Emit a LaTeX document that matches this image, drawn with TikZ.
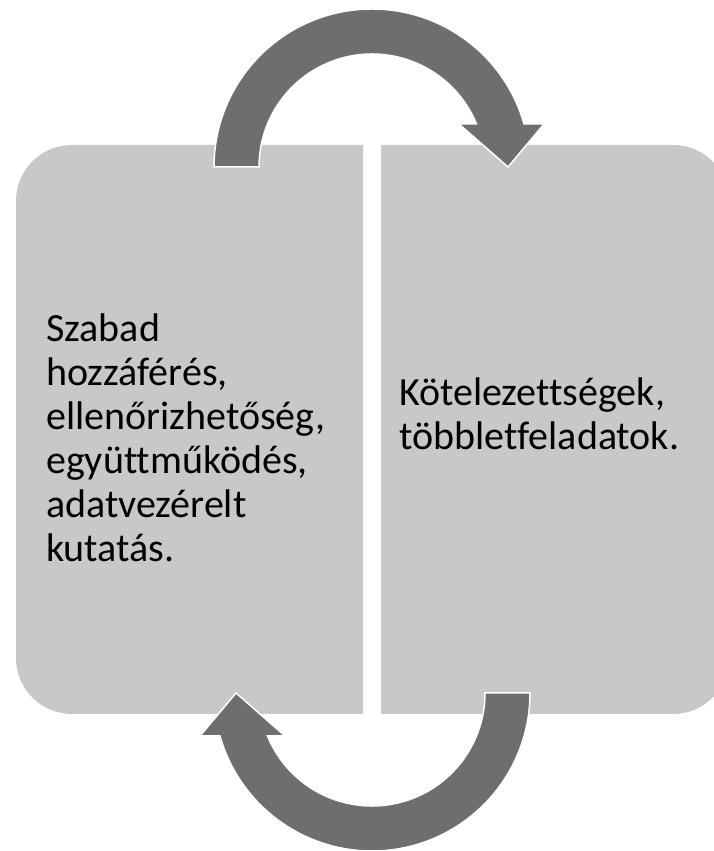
\documentclass[tikz,border=0pt]{standalone}
\usepackage{fontspec}
\setmainfont[Ligatures={NoCommon}]{Carlito}
\usetikzlibrary{positioning}

\definecolor{boxgray}{RGB}{200,200,200}
\definecolor{arrowgray}{RGB}{110,110,110}

\begin{document}
\begin{tikzpicture}[x=1pt, y=1pt]
        \tikzset{panel/.style={fill=boxgray},
                 words/.style={font=\fontsize{40}{44}\selectfont, text=black, align=left, inner sep=0pt, anchor=north west},
                 pics/bendarrow/.style={code={
                     \fill[arrowgray, draw=white, line width=1.5pt]
                         (-158,0) arc[start angle=180, end angle=15.79, radius=158]
                         -- (172,43) -- (136,0) -- (87,43) -- (104.5,43)
                         arc[start angle=22.37, end angle=180, radius=113] -- cycle;}}}

        \useasboundingbox (0,0) rectangle (713,851);

        % the two panels
        \fill[panel] (363,706) -- (72,706) arc[start angle=90, end angle=180, radius=56]
                -- (16,193) arc[start angle=180, end angle=270, radius=56] -- (363,137) -- cycle;
        \fill[panel] (381,706) -- (673,706) arc[start angle=90, end angle=0, radius=56]
                -- (729,193) arc[start angle=0, end angle=-90, radius=56] -- (381,137) -- cycle;

        \node[words] (open) at (46,537) {Szabad\\hozzáférés,\\ellenőrizhetőség,\\együttműködés,\\adatvezérelt\\kutatás.};
        \node[words] (duty) at (399,473) {Kötelezettségek,\\többletfeladatok.};

        % turning arrows
        \pic at (372,684) {bendarrow};
        \pic[rotate=180] at (372,158) {bendarrow};
\end{tikzpicture}
\end{document}
